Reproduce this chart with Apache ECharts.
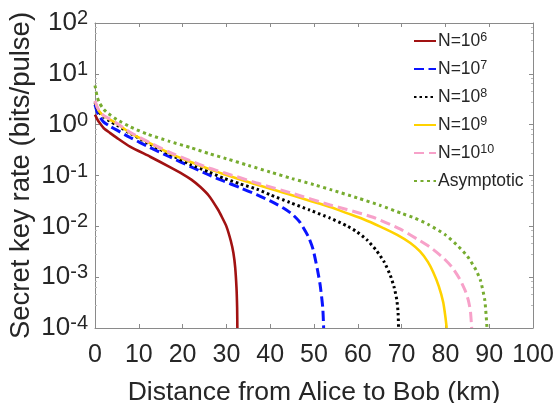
<!DOCTYPE html>
<html><head><meta charset="utf-8">
<script src="https://cdn.jsdelivr.net/npm/echarts@6/dist/echarts.min.js"></script>
<style>html,body{margin:0;padding:0;background:#fff}#c{width:557px;height:403px}</style>
</head><body><div id="c"></div>
<script>
// ---- data ----
const xTicks = [0,10,20,30,40,50,60,70,80,90,100];
const yExpTicks = [-4,-3,-2,-1,0,1,2];
const legendExps = [6,7,8,9,10];

const distN6 = [0,0.5,1,2,3.4,5,8,12.6,17,20,22,24,26,28,29,30,31,31.6,32,32.3,32.45,32.5];
const rateN6 = [1.58,1.29,1.10,0.85,0.69,0.55,0.37,0.234,0.148,0.107,0.083,0.060,0.040,0.0219,0.0151,0.010,0.0052,0.0030,0.00158,0.00063,0.00025,0.0001];

const distN7 = [0,0.5,1,2,3.4,5,8,12.6,17,21.7,26.3,29.3,33,36.9,40,43,45,46.8,48.7,49.8,50.8,51.4,52,52.2];
const rateN7 = [2.45,1.78,1.45,1.12,0.93,0.78,0.56,0.355,0.234,0.151,0.1,0.078,0.058,0.042,0.0316,0.0229,0.0174,0.012,0.0063,0.0035,0.00138,0.00071,0.00025,0.0001];

const distN8 = [0,0.5,1,2,3.4,5,8,12.6,17,21.7,26,29.3,33,36.9,40,44.5,49,53.7,57.5,59.7,62,64.3,66,67.4,68.3,68.9,69.2,69.3];
const rateN8 = [2.75,2.09,1.74,1.41,1.17,0.98,0.68,0.41,0.263,0.166,0.117,0.089,0.069,0.054,0.0417,0.0295,0.0209,0.0145,0.0102,0.0079,0.0055,0.0033,0.002,0.0011,0.00063,0.00036,0.0002,0.0001];

const distN9 = [0,0.5,1,2,3.4,5,8,12.6,17,21.7,26,30,37,45,53.7,57.5,61.3,65,69,72,74.2,76,77.2,78.5,79.5,80,80.3];
const rateN9 = [2.88,2.19,1.82,1.48,1.26,1.05,0.69,0.43,0.275,0.186,0.135,0.102,0.066,0.041,0.024,0.0182,0.0138,0.010,0.0068,0.0047,0.0032,0.002,0.00126,0.00066,0.00032,0.000166,0.0001];

const distN10 = [0,0.5,1,2,3.4,5,8,12.6,17,21.7,26,30,37,45,53.7,57.5,63.5,69.6,74.2,76.5,79.5,81.5,83.3,84.5,85.2,85.7,86];
const rateN10 = [2.95,2.24,1.86,1.51,1.29,1.07,0.71,0.44,0.288,0.195,0.141,0.11,0.071,0.0447,0.0263,0.0214,0.0151,0.0089,0.0052,0.0039,0.0024,0.00158,0.00091,0.00055,0.00036,0.00022,0.0001];

const distAsym = [0,0.5,1,2,3,5,8,12,17,22,26,30,35,40,45,50,54,60,65,70,73,76,80,83,85,87,88,89,89.5];
const rateAsym = [5.9,3.55,2.69,2.0,1.66,1.26,0.91,0.65,0.47,0.35,0.27,0.214,0.158,0.117,0.087,0.066,0.052,0.036,0.026,0.018,0.0145,0.011,0.0068,0.004,0.0026,0.00138,0.00087,0.00035,0.0001];

const seriesNames = ['N=10^6','N=10^7','N=10^8','N=10^9','N=10^10','Asymptotic'];
// ---- chart ----
const zip = (a,b)=>a.map((v,i)=>[v,b[i]]);
const FONT = '"Liberation Sans", Arial, sans-serif';
const TXT = '#262626';
const AX = '#8a8a8a';
const styles = [
  {color:'#a11212', type:'solid', width:2.6},
  {color:'#0a14ff', type:[10,4.5], width:3},
  {color:'#000000', type:[2.5,3], width:3},
  {color:'#ffd200', type:'solid', width:2.6},
  {color:'#f7a1c9', type:[10,5], width:3},
  {color:'#77ac30', type:[3,3.5], width:3}
];
const data = [zip(distN6,rateN6),zip(distN7,rateN7),zip(distN8,rateN8),zip(distN9,rateN9),zip(distN10,rateN10),zip(distAsym,rateAsym)];
const supRich = {
  b:{fontSize:26,fontFamily:FONT,color:TXT},
  s:{fontSize:20,fontFamily:FONT,color:TXT,verticalAlign:'top',padding:[0,0,9,0]}
};
const legRich = {
  b:{fontSize:17.5,fontFamily:FONT,color:TXT},
  s:{fontSize:12.5,fontFamily:FONT,color:TXT,verticalAlign:'top',padding:[0,0,7,0]}
};
const chart = echarts.init(document.getElementById('c'));
chart.setOption({
  animation:false,
  backgroundColor:'#fff',
  grid:{left:95,right:24,top:23,bottom:75,containLabel:false,outerBoundsMode:'none'},
  legend:{
    orient:'vertical', left:413, top:31, itemWidth:22, itemHeight:10, itemGap:9,
    padding:0, data:seriesNames,
    itemStyle:{opacity:0},
    formatter:function(n){
      const i = seriesNames.indexOf(n);
      if(i<legendExps.length){ return '{b|N=10}{s|'+legendExps[i]+'}'; }
      return '{b|'+n+'}{s| }';
    },
    textStyle:{rich:legRich, fontSize:17.5, fontFamily:FONT, color:TXT, padding:[0,0,0,-3]}
  },
  xAxis:[{
    type:'value', min:0, max:100, interval:10,
    name:'Distance from Alice to Bob (km)', nameLocation:'middle', nameGap:51, nameMoveOverlap:false,
    nameTextStyle:{fontSize:26.5,fontFamily:FONT,color:TXT},
    axisLine:{show:true,onZero:false,lineStyle:{color:AX,width:1}},
    axisTick:{show:true,inside:true,length:4,lineStyle:{color:AX}},
    axisLabel:{fontSize:25,fontFamily:FONT,color:TXT,margin:15},
    splitLine:{show:false}
  },{
    type:'value', min:0, max:100, interval:10, position:'top',
    axisLine:{show:true,onZero:false,lineStyle:{color:AX,width:1}},
    axisTick:{show:true,inside:true,length:4,lineStyle:{color:AX}},
    axisLabel:{show:false}, splitLine:{show:false}
  }],
  yAxis:[{
    type:'log', logBase:10, min:1e-4, max:100,
    name:'Secret key rate (bits/pulse)', nameLocation:'middle', nameGap:60, nameMoveOverlap:false,
    nameTextStyle:{fontSize:27.5,fontFamily:FONT,color:TXT},
    axisLine:{show:true,onZero:false,lineStyle:{color:AX,width:1}},
    axisTick:{show:true,inside:true,length:4,lineStyle:{color:AX}},
    minorTick:{show:true,splitNumber:5,length:2,lineStyle:{color:'#bbb'}},
    axisLabel:{margin:7,rich:supRich,formatter:function(v){return '{b|10}{s|'+Math.round(Math.log10(v))+'}';}},
    splitLine:{show:false}
  },{
    type:'log', logBase:10, min:1e-4, max:100, position:'right',
    axisLine:{show:true,onZero:false,lineStyle:{color:AX,width:1}},
    axisTick:{show:true,inside:true,length:4,lineStyle:{color:AX}},
    minorTick:{show:true,splitNumber:5,length:2,lineStyle:{color:'#bbb'}},
    axisLabel:{show:false}, splitLine:{show:false}
  }],
  series: data.map((d,i)=>({
    name:seriesNames[i], type:'line', data:d, showSymbol:false, symbol:'none',
    smooth:0.2, clip:true,
    lineStyle:{color:styles[i].color,type:styles[i].type,width:styles[i].width},
    itemStyle:{color:styles[i].color}
  }))
});
</script></body></html>
